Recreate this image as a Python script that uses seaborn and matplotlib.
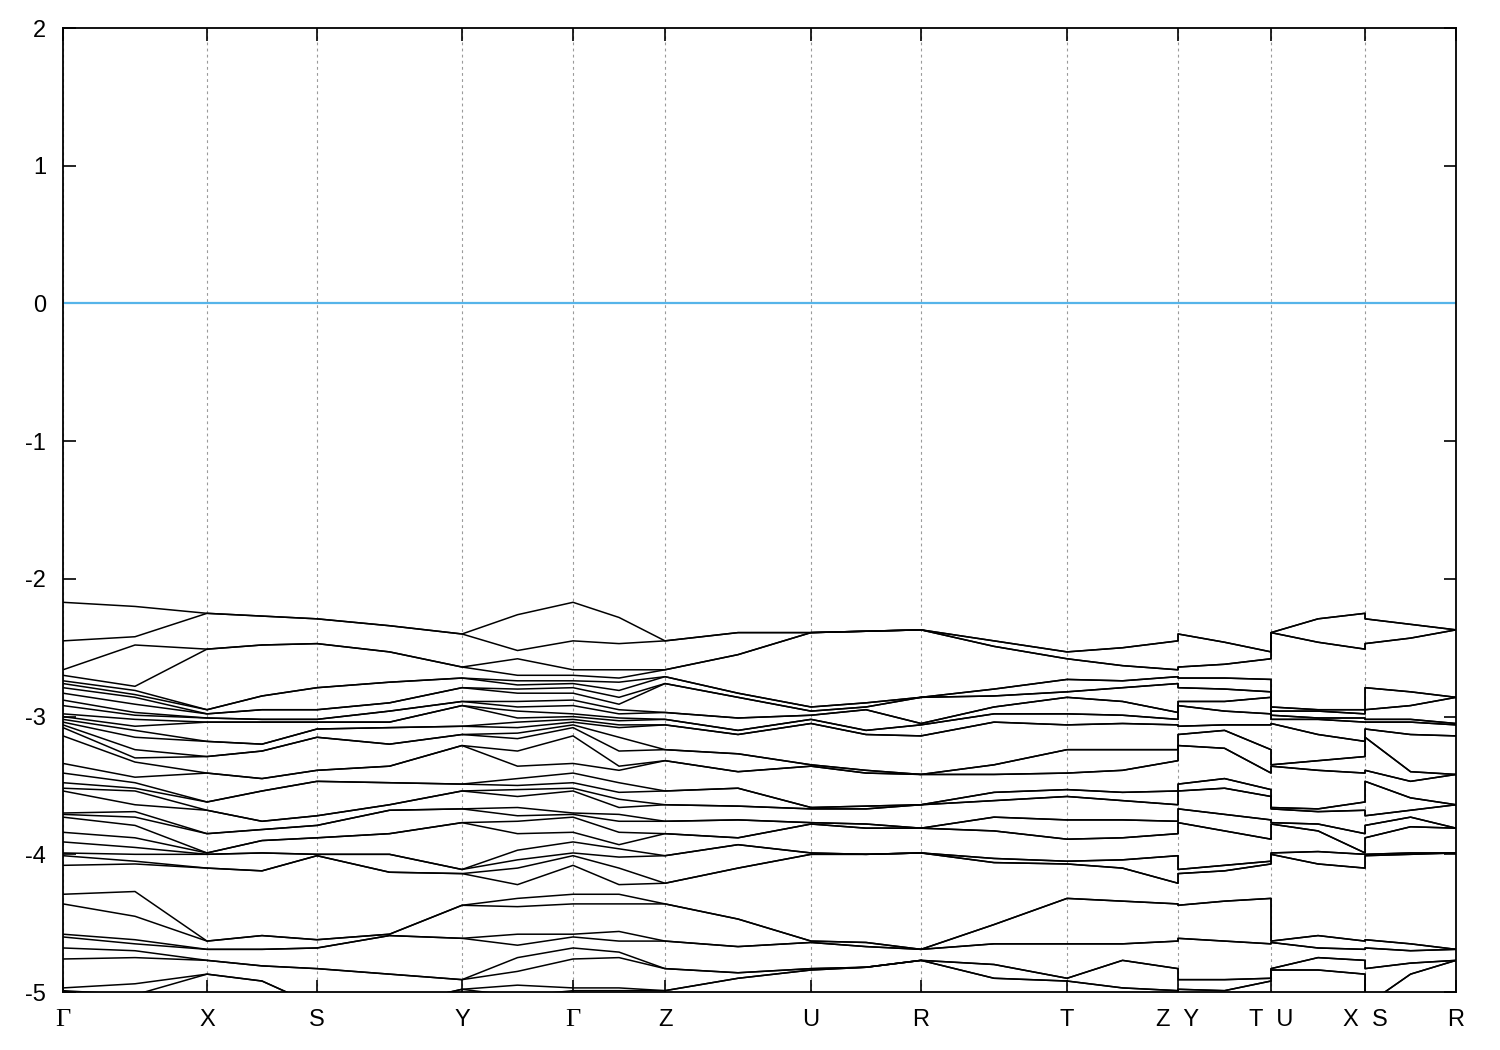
import numpy as np
import pandas as pd
import seaborn as sns
import matplotlib.pyplot as plt

# k-path: segment lengths between high-symmetry points
seg_len = [1.44, 1.10, 1.45, 1.11, 0.92, 1.46, 1.10, 1.46, 1.11, 0.93, 0.94, 0.91]
tick_labels = ["Γ", "X", "S", "Y", "Γ", "Z", "U", "R", "T", "Z  Y", "T  U", "X  S", "R"]

# band energies (eV) at the high-symmetry points
# (zone-boundary points list one value per doubly degenerate pair)
e_gamma = [-2.17, -2.45, -2.66, -2.70, -2.74, -2.76, -2.79, -2.83, -2.88, -2.92,
           -2.98, -3.00, -3.02, -3.04, -3.06, -3.08, -3.14, -3.34, -3.41, -3.48,
           -3.52, -3.54, -3.70, -3.71, -3.73, -3.84, -3.91, -3.99, -4.01, -4.08,
           -4.29, -4.36, -4.58, -4.60, -4.68, -4.76, -4.97, -4.99]
e_x = [-2.25, -2.51, -2.95, -2.98, -3.01, -3.04, -3.18, -3.29, -3.41, -3.62,
       -3.68, -3.85, -3.99, -4.00, -4.10, -4.63, -4.69, -4.77, -4.87]
e_s = [-2.29, -2.47, -2.79, -2.95, -3.02, -3.04, -3.09, -3.15, -3.39, -3.47,
       -3.72, -3.79, -3.88, -4.00, -4.01, -4.62, -4.68, -4.83, -5.10]
e_y = [-2.40, -2.64, -2.72, -2.79, -2.89, -2.92, -3.07, -3.13, -3.21, -3.49,
       -3.54, -3.67, -3.77, -4.11, -4.14, -4.37, -4.61, -4.91, -4.98]
e_z = [-2.45, -2.66, -2.71, -2.76, -2.97, -3.02, -3.06, -3.24, -3.32, -3.54,
       -3.64, -3.76, -3.85, -4.01, -4.21, -4.36, -4.63, -4.83, -4.99]
e_u = [-2.39, -2.39, -2.93, -2.96, -2.99, -3.02, -3.05, -3.35, -3.36, -3.66,
       -3.67, -3.77, -3.78, -3.99, -4.00, -4.63, -4.64, -4.83, -4.84]
e_r = [-2.37, -2.37, -2.86, -2.86, -3.05, -3.06, -3.14, -3.42, -3.42, -3.64,
       -3.64, -3.81, -3.81, -3.99, -3.99, -4.69, -4.69, -4.77, -4.77]
e_t = [-2.53, -2.58, -2.73, -2.82, -2.86, -2.98, -3.06, -3.24, -3.41, -3.53,
       -3.58, -3.75, -3.89, -4.05, -4.07, -4.32, -4.65, -4.90, -4.92]

# band energies half way along each segment
m_gx = [-2.20, -2.42, -2.48, -2.78, -2.81, -2.84, -2.86, -2.91, -2.97, -2.99,
        -3.02, -3.07, -3.10, -3.15, -3.24, -3.30, -3.33, -3.44, -3.48, -3.52,
        -3.54, -3.64, -3.69, -3.73, -3.79, -3.88, -3.95, -4.00, -4.05, -4.07,
        -4.27, -4.45, -4.62, -4.65, -4.70, -4.75, -4.94, -5.02]
m_xs = [-2.27, -2.48, -2.85, -2.95, -3.02, -3.04, -3.20, -3.25, -3.45, -3.54,
        -3.76, -3.82, -3.90, -3.99, -4.12, -4.59, -4.69, -4.81, -4.92]
m_sy = [-2.34, -2.53, -2.75, -2.90, -2.96, -3.04, -3.08, -3.20, -3.36, -3.48,
        -3.64, -3.68, -3.85, -4.00, -4.13, -4.58, -4.59, -4.87, -5.10]
m_yg = [-2.26, -2.52, -2.58, -2.70, -2.74, -2.77, -2.80, -2.83, -2.89, -2.93,
        -2.96, -3.01, -3.04, -3.08, -3.12, -3.16, -3.25, -3.36, -3.45, -3.50,
        -3.53, -3.58, -3.66, -3.72, -3.76, -3.85, -3.97, -4.04, -4.10, -4.22,
        -4.32, -4.38, -4.58, -4.66, -4.75, -4.85, -4.95, -5.03]
m_gz = [-2.28, -2.47, -2.66, -2.72, -2.75, -2.81, -2.86, -2.91, -2.95, -2.98,
        -3.01, -3.03, -3.06, -3.08, -3.15, -3.25, -3.36, -3.39, -3.48, -3.55,
        -3.60, -3.66, -3.71, -3.76, -3.84, -3.93, -3.96, -4.02, -4.10, -4.22,
        -4.29, -4.36, -4.56, -4.63, -4.71, -4.75, -4.97, -4.99]
m_zu = [-2.39, -2.55, -2.83, -2.86, -3.01, -3.10, -3.13, -3.27, -3.40, -3.52,
        -3.65, -3.75, -3.88, -3.93, -4.10, -4.47, -4.67, -4.86, -4.90]
m_ur = [-2.38, -2.38, -2.90, -2.93, -2.95, -3.10, -3.13, -3.39, -3.41, -3.65,
        -3.67, -3.78, -3.81, -4.00, -4.00, -4.64, -4.67, -4.82, -4.82]
m_rt = [-2.45, -2.49, -2.80, -2.85, -2.93, -2.98, -3.04, -3.35, -3.42, -3.55,
        -3.61, -3.73, -3.83, -4.03, -4.06, -4.51, -4.65, -4.80, -4.90]
m_tz = [-2.50, -2.63, -2.74, -2.79, -2.89, -2.99, -3.05, -3.24, -3.39, -3.55,
        -3.61, -3.75, -3.88, -4.04, -4.10, -4.34, -4.65, -4.77, -4.97]
m_yt = [-2.46, -2.62, -2.72, -2.80, -2.89, -2.96, -3.06, -3.10, -3.23, -3.45,
        -3.52, -3.71, -3.83, -4.08, -4.12, -4.34, -4.63, -4.91, -4.99]
m_ux = [-2.29, -2.46, -2.95, -2.96, -3.01, -3.02, -3.13, -3.32, -3.39, -3.67,
        -3.69, -3.78, -3.83, -3.98, -4.07, -4.59, -4.68, -4.75, -4.84]
m_sr = [-2.33, -2.43, -2.82, -2.92, -3.02, -3.04, -3.13, -3.40, -3.47, -3.59,
        -3.68, -3.73, -3.80, -3.99, -4.00, -4.65, -4.70, -4.79, -4.87]

# path order; tuples are the jumps (end of one branch, start of the next)
points = [e_gamma, e_x, e_s, e_y, e_gamma, e_z, e_u, e_r, e_t,
          (e_z, e_y), (e_t, e_u), (e_x, e_s), e_r]
mids = [m_gx, m_xs, m_sy, m_yg, m_gz, m_zu, m_ur, m_rt, m_tz, m_yt, m_ux, m_sr]


def full(v):
    v = np.sort(np.asarray(v))[::-1]
    return np.repeat(v, 2) if len(v) == 19 else v


k_nodes = np.concatenate([[0], np.cumsum(seg_len)])
cols = []
for i, p in enumerate(points):
    for v in (p if isinstance(p, tuple) else (p,)):
        cols.append((k_nodes[i], full(v)))
    if i < len(mids):
        cols.append(((k_nodes[i] + k_nodes[i + 1]) / 2, full(mids[i])))

rows = [(b, k, v[b]) for b in range(38) for k, v in cols]
df = pd.DataFrame(rows, columns=["band", "k", "E"])

sns.set_style("ticks")
plt.rcParams["font.family"] = ["Liberation Sans", "DejaVu Sans"]
plt.rcParams["axes.unicode_minus"] = False

fig = plt.figure(figsize=(15, 10.5), dpi=100)
ax = fig.add_axes([0.042, 0.0552, 0.9287, 0.9181])

ax.grid(axis="x", color="#9a9a9a", linestyle=(0, (2.5, 3)), lw=0.8)
ax.axhline(0, color="#56b4e9", lw=1.6, zorder=1)
sns.lineplot(data=df, x="k", y="E", units="band", estimator=None, sort=False,
             color="black", lw=1.1, ax=ax, legend=False, zorder=2)

ax.set_xlim(k_nodes[0], k_nodes[-1])
ax.set_ylim(-5, 2)
ax.set_xticks(k_nodes)
ax.set_xticklabels(tick_labels)
ax.set_yticks(range(-5, 3))
ax.set_xlabel("")
ax.set_ylabel("")
ax.tick_params(direction="in", length=9, width=1.2, top=True, right=True,
               labelsize=17, pad=12, colors="black")
for lab in ax.get_xticklabels():
    if lab.get_text() == "Γ":
        lab.set_fontfamily(["Liberation Serif", "DejaVu Serif"])
        lab.set_fontsize(19)
for s in ax.spines.values():
    s.set_linewidth(1.3)
    s.set_color("black")

fig.savefig("out.png", dpi=100)
